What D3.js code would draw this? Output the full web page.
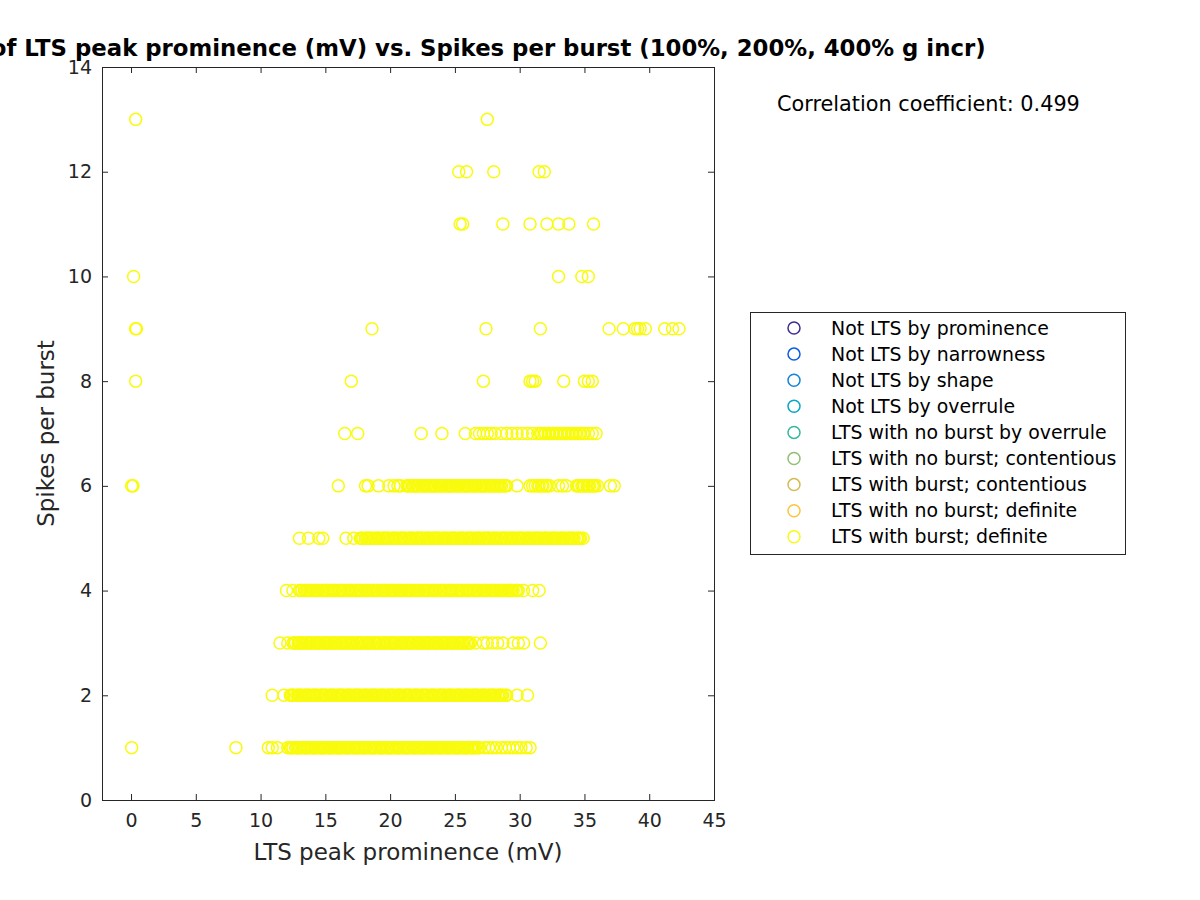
<!DOCTYPE html>
<html>
<head>
<meta charset="utf-8">
<script src="https://d3js.org/d3.v7.min.js"></script>
<style>
  body { margin: 0; background: #fff; }
  text { font-family: "DejaVu Sans", sans-serif; }
</style>
</head>
<body>
<div id="chart"></div>
<script>
// spikes per burst rows, x = LTS peak prominence (mV)
const spikes1X = [0.05, 8.1, 10.6, 10.9, 11.3, 12.1,
  12.3,12.4,12.5,12.7,12.8,12.9,13.0,13.1,13.3,13.4,13.5,13.6,13.7,13.9,14.0,14.1,14.2,14.3,14.5,14.6,14.7,14.8,14.9,15.0,15.2,15.3,15.4,15.5,15.6,15.8,15.9,16.0,16.1,16.2,16.3,16.5,16.6,16.7,16.8,16.9,17.1,17.2,17.3,17.4,17.5,17.6,17.8,17.9,18.0,18.1,18.2,18.4,18.5,18.6,18.7,18.8,18.9,19.1,19.2,19.3,19.4,19.5,19.7,19.8,19.9,20.0,20.1,20.2,20.4,20.5,20.6,20.7,20.8,21.0,21.1,21.2,21.3,21.4,21.5,21.7,21.8,21.9,22.0,22.1,22.3,22.4,22.5,22.6,22.7,22.8,23.0,23.1,23.2,23.3,23.4,23.6,23.7,23.8,23.9,24.0,24.1,24.3,24.4,24.5,24.6,24.7,24.9,25.0,25.1,25.2,25.3,25.4,25.6,25.7,25.8,25.9,26.0,26.2,26.3,26.4,26.5,26.6,26.8,26.9,
  27.3,27.6,27.9,28.2,28.6,28.9,29.2,29.5,29.8,30.1,30.5,30.8];
const spikes2X = [10.9, 11.8,
  12.3,12.4,12.5,12.6,12.8,12.9,13.0,13.1,13.2,13.4,13.5,13.6,13.7,13.8,14.0,14.1,14.2,14.3,14.4,14.6,14.7,14.8,14.9,15.0,15.1,15.3,15.4,15.5,15.6,15.7,15.9,16.0,16.1,16.2,16.3,16.4,16.6,16.7,16.8,16.9,17.0,17.2,17.3,17.4,17.5,17.6,17.7,17.9,18.0,18.1,18.2,18.3,18.5,18.6,18.7,18.8,18.9,19.0,19.2,19.3,19.4,19.5,19.6,19.8,19.9,20.0,20.1,20.2,20.3,20.5,20.6,20.7,20.8,20.9,21.1,21.2,21.3,21.4,21.5,21.6,21.8,21.9,22.0,22.1,22.2,22.4,22.5,22.6,22.7,22.8,22.9,23.1,23.2,23.3,23.4,23.5,23.7,23.8,23.9,24.0,24.1,24.2,24.4,24.5,24.6,24.7,24.8,25.0,25.1,25.2,25.3,25.4,25.5,25.7,25.8,25.9,26.0,26.1,26.3,26.4,26.5,26.6,26.7,26.8,27.0,27.1,27.2,27.3,27.4,27.6,27.7,27.8,27.9,28.0,28.1,28.3,28.4,28.5,28.6,28.7,28.9,29.0,
  29.8, 30.6];
const spikes3X = [11.5, 12.1,
  12.5,12.6,12.7,12.9,13.0,13.1,13.2,13.3,13.5,13.6,13.7,13.8,13.9,14.0,14.2,14.3,14.4,14.5,14.6,14.8,14.9,15.0,15.1,15.2,15.3,15.5,15.6,15.7,15.8,15.9,16.1,16.2,16.3,16.4,16.5,16.6,16.8,16.9,17.0,17.1,17.2,17.4,17.5,17.6,17.7,17.8,17.9,18.1,18.2,18.3,18.4,18.5,18.7,18.8,18.9,19.0,19.1,19.2,19.4,19.5,19.6,19.7,19.8,20.0,20.1,20.2,20.3,20.4,20.5,20.7,20.8,20.9,21.0,21.1,21.3,21.4,21.5,21.6,21.7,21.8,22.0,22.1,22.2,22.3,22.4,22.6,22.7,22.8,22.9,23.0,23.1,23.3,23.4,23.5,23.6,23.7,23.9,24.0,24.1,24.2,24.3,24.4,24.6,24.7,24.8,24.9,25.0,25.2,25.3,25.4,25.5,25.6,25.7,25.9,26.0,26.1,26.2,
  26.6, 27.2, 27.5, 27.9, 28.3, 28.7, 29.5, 29.9, 30.3, 31.6];
const spikes4X = [12.0, 12.5,
  13.0,13.1,13.2,13.4,13.5,13.6,13.7,13.8,13.9,14.1,14.2,14.3,14.4,14.5,14.7,14.8,14.9,15.0,15.1,15.2,15.4,15.5,15.6,15.7,15.8,16.0,16.1,16.2,16.3,16.4,16.5,16.7,16.8,16.9,17.0,17.1,17.3,17.4,17.5,17.6,17.7,17.8,18.0,18.1,18.2,18.3,18.4,18.6,18.7,18.8,18.9,19.0,19.1,19.3,19.4,19.5,19.6,19.7,19.9,20.0,20.1,20.2,20.3,20.4,20.6,20.7,20.8,20.9,21.0,21.2,21.3,21.4,21.5,21.6,21.7,21.9,22.0,22.1,22.2,22.3,22.5,22.6,22.7,22.8,22.9,23.0,23.2,23.3,23.4,23.5,23.6,23.8,23.9,24.0,24.1,24.2,24.3,24.5,24.6,24.7,24.8,24.9,25.1,25.2,25.3,25.4,25.5,25.6,25.8,25.9,26.0,26.1,26.2,26.4,26.5,26.6,26.7,26.8,26.9,27.1,27.2,27.3,27.4,27.5,27.7,27.8,27.9,28.0,28.1,28.2,28.4,28.5,28.6,28.7,28.8,29.0,29.1,29.2,29.3,29.4,29.5,29.7,29.8,29.9,
  30.3, 31.0, 31.5];
const spikes5X = [13.0, 13.7, 14.5, 14.8, 16.6, 17.2,
  17.7,17.8,17.9,18.1,18.2,18.3,18.4,18.5,18.6,18.8,18.9,19.0,19.1,19.2,19.4,19.5,19.6,19.7,19.8,19.9,20.1,20.2,20.3,20.4,20.5,20.7,20.8,20.9,21.0,21.1,21.2,21.4,21.5,21.6,21.7,21.8,22.0,22.1,22.2,22.3,22.4,22.5,22.7,22.8,22.9,23.0,23.1,23.3,23.4,23.5,23.6,23.7,23.8,24.0,24.1,24.2,24.3,24.4,24.6,24.7,24.8,24.9,25.0,25.1,25.3,25.4,25.5,25.6,25.7,25.9,26.0,26.1,26.2,26.3,26.4,26.6,26.7,26.8,26.9,27.0,27.2,27.3,27.4,27.5,27.6,27.7,27.9,28.0,28.1,28.2,28.3,28.5,28.6,28.7,28.8,28.9,29.0,29.2,29.3,29.4,29.5,29.6,29.8,29.9,30.0,30.1,30.2,30.3,30.5,30.6,30.7,30.8,30.9,31.1,31.2,31.3,31.4,31.5,31.6,31.8,31.9,32.0,32.1,32.2,32.4,32.5,32.6,32.7,32.8,32.9,33.1,33.2,33.3,33.4,33.5,33.7,33.8,33.9,34.0,34.1,34.2,34.4,34.5,34.6,34.7,34.9];
const spikes6X = [0.05, 0.15, 16.0, 18.1, 18.3, 19.1, 19.9, 20.3, 20.6, 20.8,
  21.3,21.4,21.5,21.7,21.8,21.9,22.0,22.1,22.2,22.4,22.5,22.6,22.7,22.8,23.0,23.1,23.2,23.3,23.4,23.5,23.7,23.8,23.9,24.0,24.1,24.3,24.4,24.5,24.6,24.7,24.8,25.0,25.1,25.2,25.3,25.4,25.6,25.7,25.8,25.9,26.0,26.1,26.3,26.4,26.5,26.6,26.7,26.9,27.0,27.1,27.2,27.3,27.4,27.6,27.7,27.8,27.9,28.0,28.2,28.3,28.4,28.5,28.6,28.8,28.9,29.0,
  29.8, 30.8, 31.0, 31.2, 31.4, 31.5, 31.7, 31.8, 32.0, 32.1, 32.3, 33.0, 33.3, 33.6, 34.4, 34.5, 34.6, 34.8, 34.9, 35.0, 35.2, 35.3, 35.4, 35.6, 35.7, 35.8, 36.0, 37.0, 37.3];
const spikes7X = [16.5, 17.5, 22.4, 24.0, 25.8, 26.6, 26.9, 27.2, 27.5, 27.8, 28.1, 28.6, 29.0, 29.4, 29.8, 30.2, 30.6, 31.0,
  31.4,31.6,31.7,31.9,32.0,32.2,32.3,32.5,32.6,32.8,32.9,33.1,33.2,33.4,33.5,33.7,33.8,34.0,34.1,34.3,34.4,34.6,34.7,34.9,35.0,
  35.3, 35.6, 35.9];
const spikes8X = [0.36, 17.0, 27.2, 30.8, 31.0, 31.2, 33.4, 35.0, 35.3, 35.6];
const spikes9X = [0.35, 0.42, 18.6, 27.4, 31.6, 36.9, 38.0, 38.9, 39.1, 39.3, 39.7, 41.2, 41.8, 42.3];
const spikes10X = [0.2, 33.0, 34.8, 35.3];
const spikes11X = [25.4, 25.6, 28.7, 30.8, 32.1, 33.0, 33.8, 35.7];
const spikes12X = [25.3, 25.9, 28.0, 31.5, 31.9];
const spikes13X = [0.36, 27.5];

const rows = [spikes1X, spikes2X, spikes3X, spikes4X, spikes5X, spikes6X, spikes7X,
  spikes8X, spikes9X, spikes10X, spikes11X, spikes12X, spikes13X];

const xTicks = [0, 5, 10, 15, 20, 25, 30, 35, 40, 45];
const yTicks = [0, 2, 4, 6, 8, 10, 12, 14];

const legendLabels = ["Not LTS by prominence", "Not LTS by narrowness", "Not LTS by shape",
  "Not LTS by overrule", "LTS with no burst by overrule", "LTS with no burst; contentious",
  "LTS with burst; contentious", "LTS with no burst; definite", "LTS with burst; definite"];
const legendColors = ["#3e2f8f", "#0f5ce0", "#1485d4", "#07a6c6", "#36b89f", "#8fbe74",
  "#d6b955", "#fcc539", "#f9fb0e"];

const corrText = "Correlation coefficient: 0.499";
const title = "Scatter plot of LTS peak prominence (mV) vs. Spikes per burst (100%, 200%, 400% g incr)";

const width = 1200, height = 900;
const plotLeft = 102, plotRight = 714, plotTop = 67, plotBottom = 800;

const svg = d3.select("#chart").append("svg")
  .attr("width", width).attr("height", height);

const xScale = d3.scaleLinear().domain([-2.24, 45]).range([plotLeft, plotRight]);
const yScale = d3.scaleLinear().domain([0, 14]).range([plotBottom, plotTop]);

const points = [];
rows.forEach((xs, i) => xs.forEach(x => points.push({x: x, y: i + 1})));

svg.append("g")
  .selectAll("circle")
  .data(points)
  .enter()
  .append("circle")
  .attr("cx", d => xScale(d.x))
  .attr("cy", d => yScale(d.y))
  .attr("r", 6)
  .attr("fill", "none")
  .attr("stroke", legendColors[8])
  .attr("stroke-width", 1.5);

// axes, MATLAB style: ticks inside, box on
const axisColor = "#262626";
function styleAxis(g, showText) {
  g.attr("font-size", null).attr("font-family", null);
  g.select(".domain").remove();
  g.selectAll(".tick line").attr("stroke", axisColor);
  g.selectAll(".tick text").attr("fill", axisColor).style("font-size", "19px")
    .style("display", showText ? null : "none");
}

svg.append("g").attr("transform", `translate(0,${plotBottom})`)
  .call(d3.axisBottom(xScale).tickValues(xTicks).tickSize(-6).tickPadding(14))
  .call(g => styleAxis(g, true));
svg.append("g").attr("transform", `translate(0,${plotTop})`)
  .call(d3.axisTop(xScale).tickValues(xTicks).tickSize(-6))
  .call(g => styleAxis(g, false));
svg.append("g").attr("transform", `translate(${plotLeft},0)`)
  .call(d3.axisLeft(yScale).tickValues(yTicks).tickSize(-6).tickPadding(10))
  .call(g => styleAxis(g, true));
svg.append("g").attr("transform", `translate(${plotRight},0)`)
  .call(d3.axisRight(yScale).tickValues(yTicks).tickSize(-6))
  .call(g => styleAxis(g, false));

svg.append("rect")
  .attr("x", plotLeft + 0.5).attr("y", plotTop + 0.5)
  .attr("width", plotRight - plotLeft).attr("height", plotBottom - plotTop)
  .attr("fill", "none").attr("stroke", axisColor).attr("stroke-width", 1);

svg.append("text")
  .attr("x", (plotLeft + plotRight) / 2).attr("y", 860)
  .attr("text-anchor", "middle").attr("fill", axisColor)
  .style("font-size", "23px")
  .text("LTS peak prominence (mV)");

svg.append("text")
  .attr("transform", `translate(54,${(plotTop + plotBottom) / 2}) rotate(-90)`)
  .attr("text-anchor", "middle").attr("fill", axisColor)
  .style("font-size", "23px")
  .text("Spikes per burst");

svg.append("text")
  .attr("x", (plotLeft + plotRight) / 2).attr("y", 56)
  .attr("text-anchor", "middle").attr("fill", "#000")
  .style("font-size", "22.8px").style("font-weight", "bold")
  .text(title);

svg.append("text")
  .attr("x", 777).attr("y", 111)
  .attr("fill", "#000")
  .style("font-size", "20.8px")
  .text(corrText);

// legend
const legend = svg.append("g");
legend.append("rect")
  .attr("x", 750.5).attr("y", 312.5).attr("width", 375).attr("height", 242)
  .attr("fill", "#fff").attr("stroke", axisColor).attr("stroke-width", 1);
const items = legend.selectAll(".item")
  .data(legendLabels)
  .enter()
  .append("g")
  .attr("transform", (d, i) => `translate(0,${328 + i * 26.1})`);
items.append("circle")
  .attr("cx", 794).attr("cy", 0).attr("r", 6)
  .attr("fill", "none")
  .attr("stroke", (d, i) => legendColors[i])
  .attr("stroke-width", 1.5);
items.append("text")
  .attr("x", 831).attr("y", 0).attr("dy", "0.35em")
  .attr("fill", "#000")
  .style("font-size", "18.9px")
  .text(d => d);
</script>
</body>
</html>
